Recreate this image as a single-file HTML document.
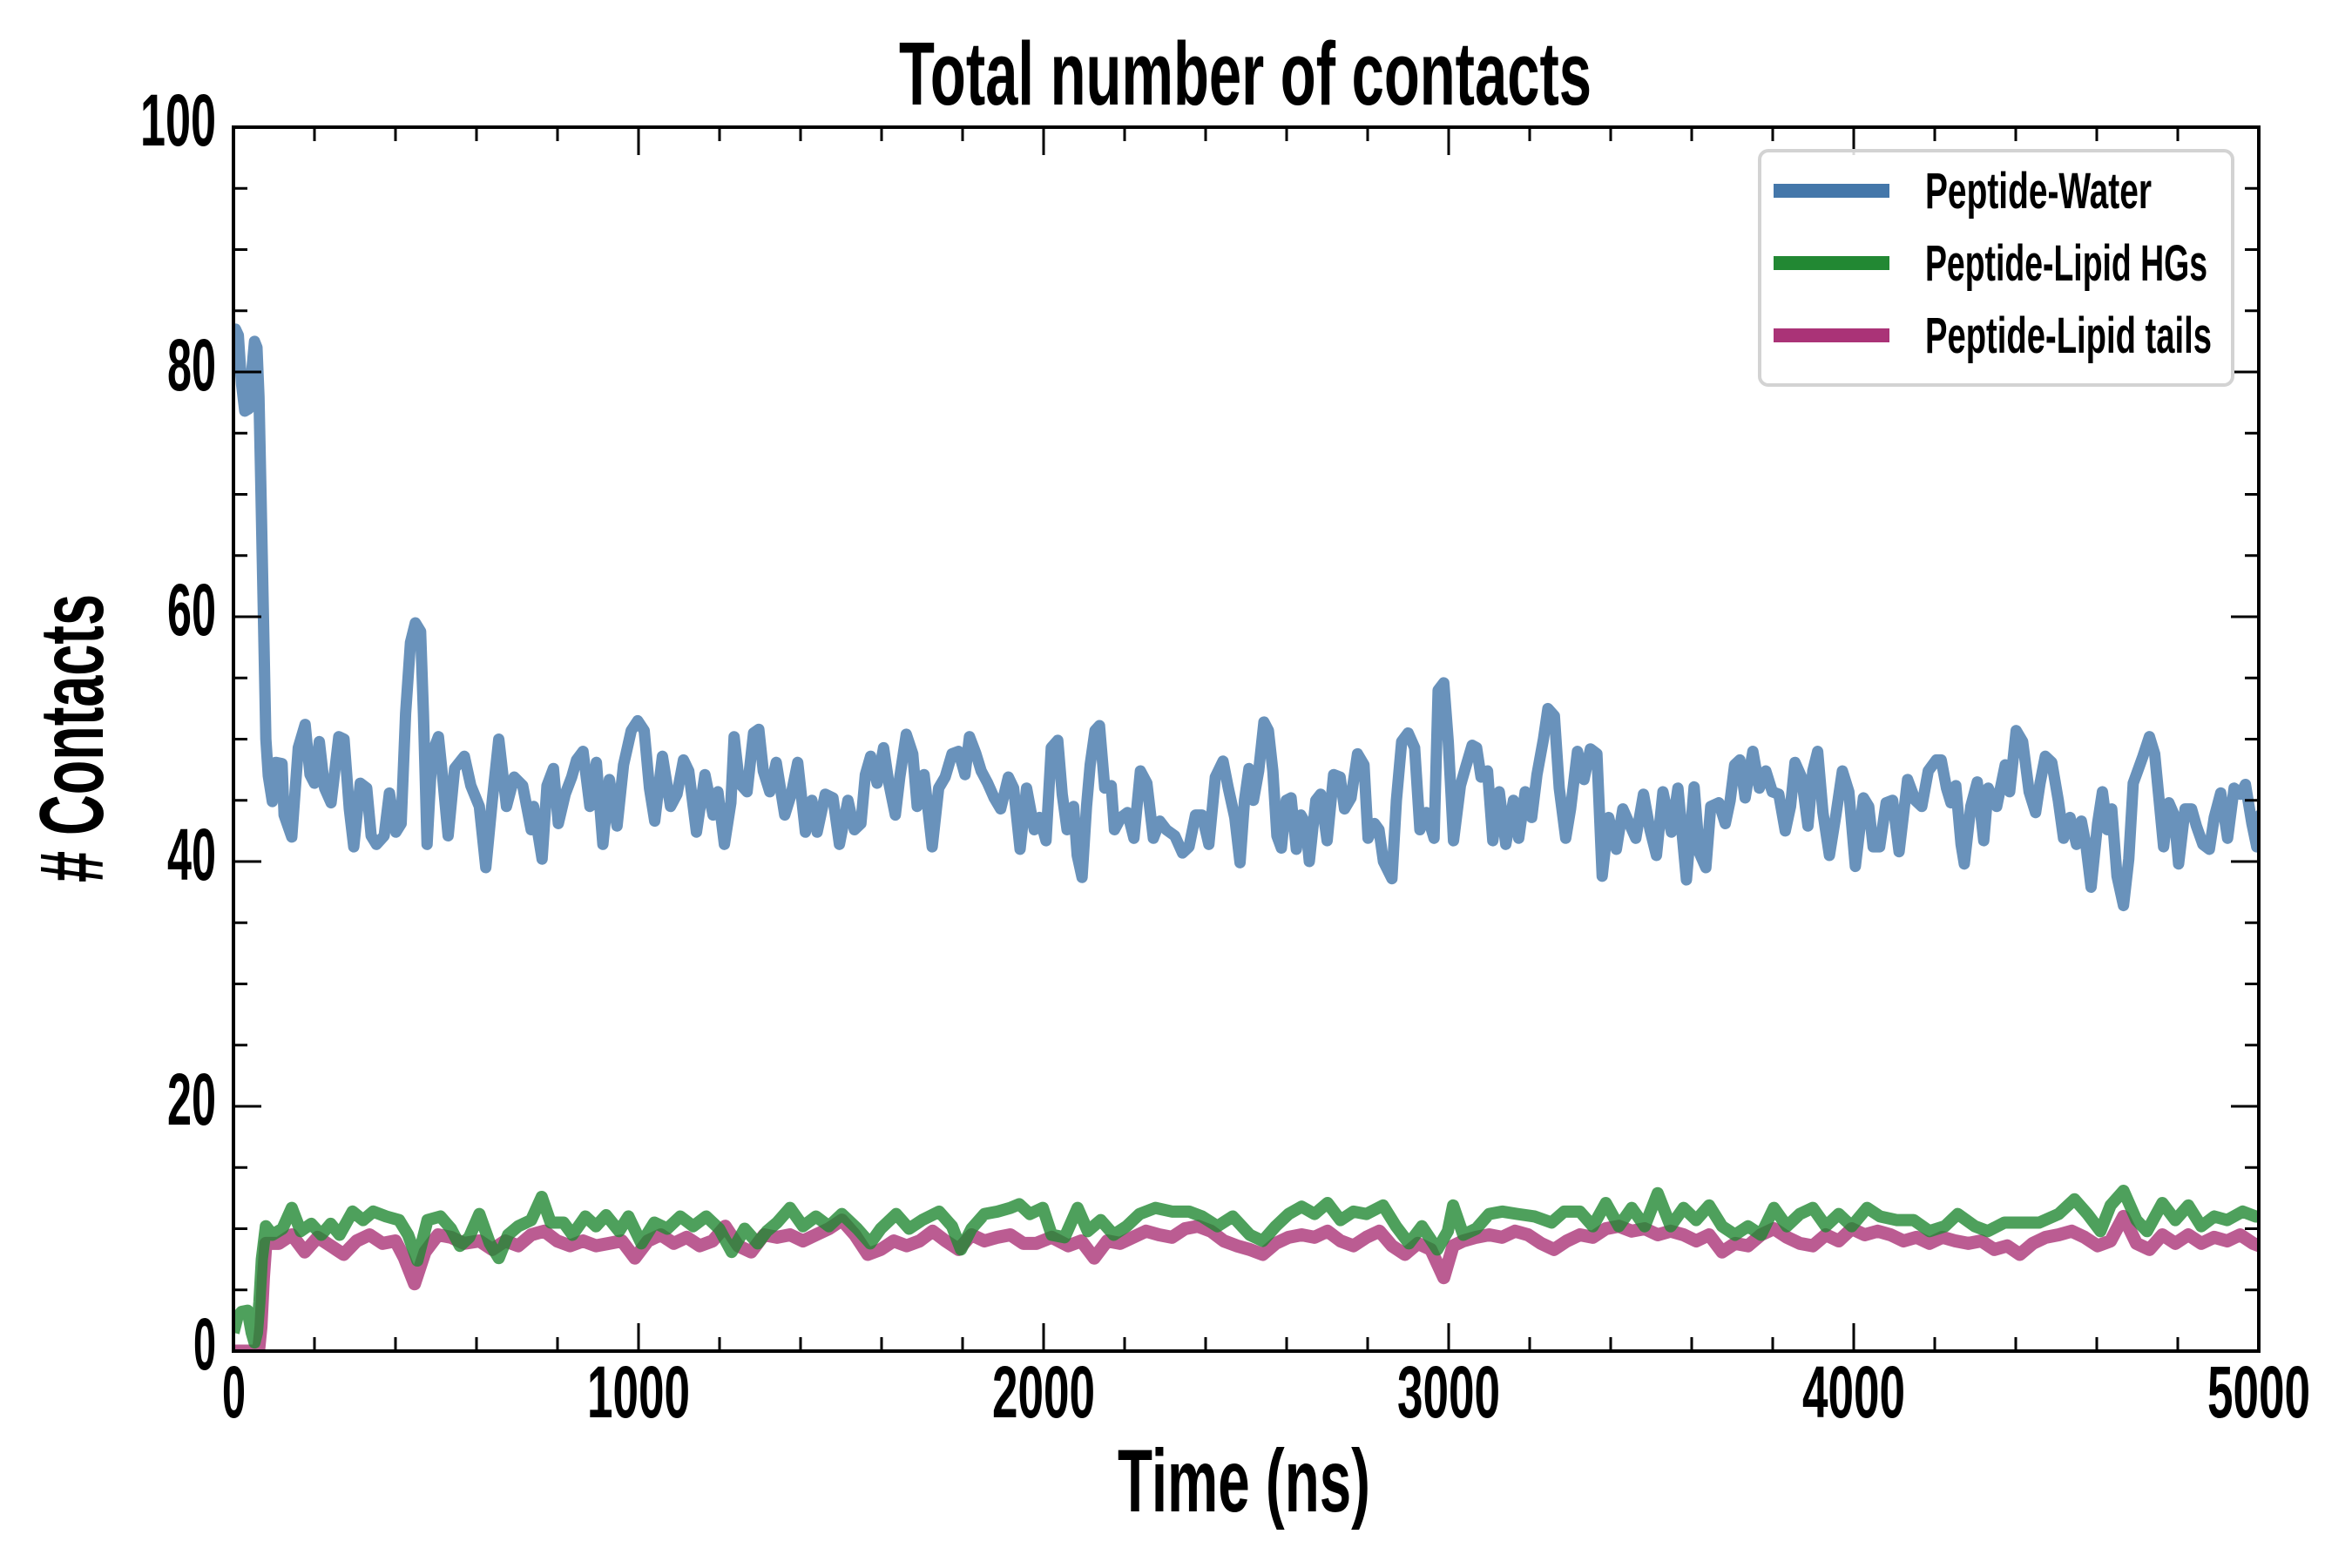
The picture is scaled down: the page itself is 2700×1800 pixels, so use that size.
<!DOCTYPE html>
<html>
<head>
<meta charset="utf-8">
<style>
html,body{margin:0;padding:0;background:#ffffff;}
svg{display:block;}
text{font-family:"Liberation Sans Narrow","Liberation Sans",sans-serif;font-weight:bold;fill:#000;}
</style>
</head>
<body>
<svg width="2700" height="1800" viewBox="0 0 2700 1800" xmlns="http://www.w3.org/2000/svg">
<defs>
<clipPath id="ax"><rect x="268" y="146" width="2325" height="1405"/></clipPath>
</defs>
<rect x="0" y="0" width="2700" height="1800" fill="#ffffff"/>

<g clip-path="url(#ax)">
<g transform="translate(268 1551) scale(0.465 -14.05)" fill="none" stroke-linejoin="round" stroke-linecap="butt">
<polyline vector-effect="non-scaling-stroke" stroke="#4477aa" stroke-opacity="0.8" stroke-width="13" points="0,82 5,83.5 12,83 20,79 28,76.8 38,77 45,80 52,82.5 58,82 63,78 68,70 74,60 80,50 86,47 96,44.9 104,48.1 120,48 125,43.8 144,42 160,49.3 177,51.2 189,47.1 200,46.4 212,49.8 225,46 241,44.8 260,50.2 273,50 286,44.3 297,41.2 313,46.4 329,46 340,42.1 353,41.4 372,42.1 385,45.6 401,42.4 414,43.1 425,52.1 437,57.9 449,59.5 462,58.8 469,52.1 478,41.4 490,48.8 506,50.2 517,46.7 530,42.1 546,47.6 570,48.6 586,46.2 607,44.5 623,39.5 639,45 655,50 674,44.5 693,46.9 714,46.2 735,42.6 741,44.5 762,40.2 774,46.2 790,47.6 802,43.1 819,45.5 835,46.9 847,48.3 863,49 880,44.5 896,48.1 912,41.4 928,46.7 947,42.9 963,47.9 982,50.7 998,51.5 1014,50.7 1027,46 1040,43.3 1059,48.6 1079,44.5 1095,45.5 1111,48.3 1124,47.4 1143,42.4 1164,47.1 1184,43.8 1196,45.7 1212,41.4 1228,44.8 1236,50.2 1249,46.4 1268,45.7 1284,50.5 1297,50.8 1308,47.4 1324,45.7 1340,48.1 1361,43.8 1377,45.5 1393,48.1 1412,42.4 1428,45 1441,42.4 1461,45.5 1480,45.2 1496,41.4 1517,45 1533,42.6 1549,43.1 1560,47.1 1573,48.6 1589,46.4 1605,49.3 1618,46.4 1634,43.8 1645,46.9 1661,50.4 1677,48.8 1688,44.5 1705,47.1 1725,41.2 1741,46 1757,46.9 1774,48.8 1790,49 1806,47.1 1817,50.2 1833,48.8 1846,47.4 1862,46.4 1878,45.2 1894,44.3 1913,46.9 1926,46 1942,41 1958,46 1977,42.6 1990,43.6 2006,41.7 2019,49.3 2035,49.9 2046,45.5 2058,42.6 2074,44.5 2083,40.5 2095,38.7 2106,44.5 2115,47.9 2127,50.7 2138,51.1 2151,46 2167,46.2 2175,42.6 2191,43.6 2207,44 2223,41.9 2239,47.4 2255,46.4 2271,41.9 2287,43.3 2303,42.6 2324,42.1 2343,40.7 2359,41.2 2375,43.8 2391,43.8 2408,41.4 2424,46.9 2443,48.2 2456,46 2472,43.6 2485,39.9 2496,45 2507,47.6 2518,45 2531,47.4 2544,51.4 2555,50.7 2566,47.4 2576,42.1 2587,41.1 2599,45 2611,45.2 2624,41 2635,43.8 2647,43.1 2656,40 2672,45 2684,45.5 2700,41.7 2716,47.1 2732,46.9 2743,44.3 2759,45.2 2775,48.8 2791,47.9 2801,41.9 2817,43.1 2828,42.6 2839,40 2860,38.6 2871,45 2884,49.8 2900,50.5 2916,49.3 2929,42.6 2945,44 2964,41.9 2974,54 2988,54.6 2999,49.8 3012,41.7 3029,46.2 3041,47.6 3058,49.5 3069,49.3 3080,46.9 3096,47.4 3109,41.7 3125,45.7 3141,41.4 3160,45 3173,41.9 3189,45.7 3205,43.6 3218,47.1 3234,50 3245,52.5 3261,51.9 3273,46 3289,41.9 3301,44.3 3318,49 3334,46.7 3350,49.2 3366,48.8 3379,38.8 3395,43.6 3414,41 3430,44.3 3446,43.1 3462,41.9 3481,45.5 3497,42.6 3513,40.5 3529,45.7 3550,42.4 3566,46 3587,38.5 3606,46.1 3619,40.7 3635,39.5 3647,44.5 3667,44.8 3683,43.1 3695,45 3706,47.9 3719,48.3 3732,45.2 3751,49 3767,46 3783,47.4 3799,45.7 3815,45.5 3831,42.5 3844,44.5 3855,48.1 3871,46.9 3887,42.9 3899,47.4 3911,49 3924,44 3940,40.5 3956,43.8 3972,47.4 3988,45.7 4004,39.6 4024,45.2 4037,44.5 4048,41.2 4064,41.2 4080,44.8 4096,45 4112,40.8 4133,46.7 4152,45 4168,44.5 4184,47.4 4204,48.3 4216,48.3 4229,46 4240,44.8 4252,46.2 4265,41.4 4273,39.8 4289,44.5 4305,46.5 4321,41.7 4332,46 4353,44.5 4374,47.9 4385,45.7 4401,50.7 4417,49.8 4433,45.7 4449,44 4460,46.4 4473,48.6 4489,48.1 4505,45 4518,41.9 4534,43.6 4550,41.4 4562,43.3 4573,41.4 4586,37.9 4602,43.1 4614,45.7 4626,42.6 4637,44.3 4650,38.8 4666,36.4 4679,40.2 4690,46.4 4701,47.4 4714,48.6 4730,50.2 4743,48.8 4754,45 4765,41.2 4778,44.8 4791,43.8 4802,39.8 4818,44.3 4834,44.3 4846,42.9 4862,41.4 4878,41 4890,43.6 4906,45.6 4923,41.9 4939,46 4955,45.5 4967,46.3 4983,43.1 4995,41.2 5003,43.8 5010,43"/>
<polyline vector-effect="non-scaling-stroke" stroke="#2a5a8a" stroke-width="2" points="0,80 62,80"/>
<polyline vector-effect="non-scaling-stroke" stroke="#aa3377" stroke-opacity="0.8" stroke-width="15" points="-5,0 30,0 62,0 68,2 74,6 80,8.8 112,8.8 144,9.5 176,8.1 208,9.3 240,8.6 272,7.9 304,9 336,9.5 368,8.8 400,9 422,7.6 447,5.5 473,8.1 505,9.5 537,9.3 569,8.8 607,9 639,8.3 671,9 703,8.6 735,9.5 767,9.8 799,9 831,8.6 863,9 895,8.6 927,8.8 959,9 991,7.6 1023,9 1055,9.5 1087,8.8 1119,9.3 1151,8.6 1183,9 1214,10.2 1246,8.6 1278,8.1 1310,9.5 1342,9.3 1374,9.5 1406,9 1438,9.5 1470,10 1502,10.7 1534,9.5 1566,7.9 1598,8.3 1630,9 1662,8.6 1694,9 1726,9.8 1758,9 1790,8.3 1822,9.5 1854,9 1886,9.3 1918,9.5 1950,8.8 1982,8.8 2020,9.3 2061,8.6 2093,9 2125,7.6 2157,9 2189,8.8 2221,9.3 2253,9.8 2285,9.5 2317,9.3 2349,10 2381,10.2 2413,9.8 2445,9 2477,8.6 2509,8.3 2541,7.9 2573,8.8 2605,9.3 2637,9.5 2669,9.3 2701,9.8 2733,9 2765,8.6 2797,9.3 2829,9.8 2860,8.6 2892,7.9 2924,8.8 2956,8.3 2988,6 3011,8.6 3036,9 3068,9.3 3100,9.5 3132,9.3 3164,9.8 3196,9.5 3228,8.8 3260,8.3 3292,9 3324,9.5 3356,9.3 3388,10 3420,10.2 3452,9.8 3484,10 3516,9.5 3548,9.8 3580,9.5 3611,9 3643,9.5 3675,8.1 3707,8.8 3739,8.6 3771,9.5 3803,10 3835,9.3 3867,8.8 3899,8.6 3931,9.5 3963,9 3995,10 4027,9.5 4059,9.8 4091,9.5 4123,9 4155,9.3 4187,8.8 4219,9.3 4251,9 4283,8.8 4315,9 4347,8.3 4379,8.6 4410,7.9 4442,8.8 4474,9.3 4506,9.5 4538,9.8 4570,9.3 4602,8.6 4634,9 4666,11 4698,8.8 4730,8.3 4762,9.5 4794,8.8 4826,9.5 4858,8.8 4890,9.3 4922,9 4954,9.5 4986,8.8 5010,8.5"/>
<polyline vector-effect="non-scaling-stroke" stroke="#228833" stroke-opacity="0.8" stroke-width="14" points="0,1.5 10,2.8 20,3.2 35,3.3 45,1.5 52,0.7 58,1.5 64,4 70,7.5 80,10.2 96,9.5 121,10 144,11.7 166,9.8 192,10.4 217,9.5 240,10.4 262,9.5 294,11.4 320,10.7 345,11.4 377,11 409,10.7 431,9.5 454,7.4 479,10.7 511,11 537,10 559,8.6 582,9.3 607,11.2 633,8.8 655,7.6 678,9.5 703,10.2 735,10.7 761,12.6 783,10.5 815,10.5 837,9.5 869,11 895,10.2 920,11.1 952,9.8 975,11 1007,8.8 1039,10.5 1071,10 1103,11 1135,10.2 1167,11 1199,10 1230,8.1 1262,10 1294,8.8 1317,9.8 1342,10.5 1374,11.7 1406,10.2 1438,11 1470,10.2 1502,11.2 1540,10 1572,8.8 1598,10 1636,11.2 1668,10 1700,10.7 1742,11.4 1774,10.2 1796,8.3 1822,10 1854,11.2 1886,11.4 1918,11.7 1940,12 1966,11.2 1998,11.7 2020,9.5 2052,9.3 2084,11.7 2109,9.8 2141,10.7 2173,9.5 2205,10.2 2237,11.2 2276,11.7 2317,11.4 2359,11.4 2391,11 2429,10.2 2467,11 2509,9.5 2541,9 2573,10.2 2605,11.2 2637,11.8 2669,11.2 2701,12.1 2733,10.7 2765,11.4 2797,11.2 2838,11.9 2870,10.2 2902,8.8 2934,10.2 2972,8.3 2998,9.8 3011,11.9 3036,9.5 3068,10 3100,11.2 3132,11.4 3170,11.2 3212,11 3254,10.5 3285,11.4 3324,11.4 3356,10.2 3388,12.1 3420,10.2 3452,11.7 3484,10.2 3516,12.9 3548,10.2 3580,11.7 3611,10.7 3643,11.9 3675,10.2 3707,9.5 3739,10.2 3771,9.5 3803,11.7 3835,10.2 3867,11.2 3899,11.7 3931,10.2 3963,11.2 3995,10.2 4033,11.7 4065,11 4107,10.7 4148,10.7 4187,9.8 4225,10.2 4257,11.2 4299,10.2 4331,9.8 4372,10.5 4410,10.5 4458,10.5 4506,11.2 4545,12.4 4577,11.2 4609,9.8 4634,11.9 4666,13.1 4698,10.7 4724,9.8 4762,12.1 4794,10.7 4826,11.9 4858,10.2 4890,11 4922,10.7 4960,11.4 4992,11 5010,11"/>
</g>
</g>

<!-- spines -->
<rect x="268" y="146" width="2325" height="1405" fill="none" stroke="#000" stroke-width="4"/>

<!-- ticks -->
<path fill="none" stroke="#000" stroke-width="3" d="
M268 1551 v-32 M733 1551 v-32 M1198 1551 v-32 M1663 1551 v-32 M2128 1551 v-32 M2593 1551 v-32
M361 1551 v-16 M454 1551 v-16 M547 1551 v-16 M640 1551 v-16
M826 1551 v-16 M919 1551 v-16 M1012 1551 v-16 M1105 1551 v-16
M1291 1551 v-16 M1384 1551 v-16 M1477 1551 v-16 M1570 1551 v-16
M1756 1551 v-16 M1849 1551 v-16 M1942 1551 v-16 M2035 1551 v-16
M2221 1551 v-16 M2314 1551 v-16 M2407 1551 v-16 M2500 1551 v-16
M268 146 v32 M733 146 v32 M1198 146 v32 M1663 146 v32 M2128 146 v32 M2593 146 v32
M361 146 v16 M454 146 v16 M547 146 v16 M640 146 v16
M826 146 v16 M919 146 v16 M1012 146 v16 M1105 146 v16
M1291 146 v16 M1384 146 v16 M1477 146 v16 M1570 146 v16
M1756 146 v16 M1849 146 v16 M1942 146 v16 M2035 146 v16
M2221 146 v16 M2314 146 v16 M2407 146 v16 M2500 146 v16
M268 1551 h32 M268 1270 h32 M268 989 h32 M268 708 h32 M268 427 h32 M268 146 h32
M268 1480.75 h16 M268 1410.5 h16 M268 1340.25 h16
M268 1199.75 h16 M268 1129.5 h16 M268 1059.25 h16
M268 918.75 h16 M268 848.5 h16 M268 778.25 h16
M268 637.75 h16 M268 567.5 h16 M268 497.25 h16
M268 356.75 h16 M268 286.5 h16 M268 216.25 h16
M2593 1551 h-32 M2593 1270 h-32 M2593 989 h-32 M2593 708 h-32 M2593 427 h-32 M2593 146 h-32
M2593 1480.75 h-16 M2593 1410.5 h-16 M2593 1340.25 h-16
M2593 1199.75 h-16 M2593 1129.5 h-16 M2593 1059.25 h-16
M2593 918.75 h-16 M2593 848.5 h-16 M2593 778.25 h-16
M2593 637.75 h-16 M2593 567.5 h-16 M2593 497.25 h-16
M2593 356.75 h-16 M2593 286.5 h-16 M2593 216.25 h-16"/>

<!-- y tick labels -->
<text x="161" y="167" font-size="84" textLength="87" lengthAdjust="spacingAndGlyphs">100</text>
<text x="192" y="448" font-size="84" textLength="56" lengthAdjust="spacingAndGlyphs">80</text>
<text x="192" y="729" font-size="84" textLength="56" lengthAdjust="spacingAndGlyphs">60</text>
<text x="192" y="1010" font-size="84" textLength="56" lengthAdjust="spacingAndGlyphs">40</text>
<text x="192" y="1291" font-size="84" textLength="56" lengthAdjust="spacingAndGlyphs">20</text>
<text x="222" y="1572" font-size="84" textLength="26" lengthAdjust="spacingAndGlyphs">0</text>

<!-- x tick labels -->
<text x="255" y="1627" font-size="84" textLength="27" lengthAdjust="spacingAndGlyphs">0</text>
<text x="674" y="1627" font-size="84" textLength="118" lengthAdjust="spacingAndGlyphs">1000</text>
<text x="1139" y="1627" font-size="84" textLength="118" lengthAdjust="spacingAndGlyphs">2000</text>
<text x="1604" y="1627" font-size="84" textLength="118" lengthAdjust="spacingAndGlyphs">3000</text>
<text x="2069" y="1627" font-size="84" textLength="118" lengthAdjust="spacingAndGlyphs">4000</text>
<text x="2534" y="1627" font-size="84" textLength="118" lengthAdjust="spacingAndGlyphs">5000</text>

<!-- title and axis labels -->
<text x="1032" y="120" font-size="103" textLength="795" lengthAdjust="spacingAndGlyphs">Total number of contacts</text>
<text x="1283" y="1735" font-size="102" textLength="290" lengthAdjust="spacingAndGlyphs">Time (ns)</text>
<text transform="translate(118 1013) rotate(-90)" x="0" y="0" font-size="104" textLength="331" lengthAdjust="spacingAndGlyphs"># Contacts</text>

<!-- legend -->
<rect x="2020" y="173" width="543" height="269" rx="10" ry="10" fill="#ffffff" fill-opacity="0.85" stroke="#d3d3d3" stroke-width="4"/>
<line x1="2036" y1="219" x2="2169" y2="219" stroke="#4477aa" stroke-width="16"/>
<line x1="2036" y1="302" x2="2169" y2="302" stroke="#228833" stroke-width="16"/>
<line x1="2036" y1="385" x2="2169" y2="385" stroke="#aa3377" stroke-width="16"/>
<text x="2210" y="239" font-size="58" textLength="260" lengthAdjust="spacingAndGlyphs">Peptide-Water</text>
<text x="2210" y="322" font-size="58" textLength="324" lengthAdjust="spacingAndGlyphs">Peptide-Lipid HGs</text>
<text x="2210" y="405" font-size="58" textLength="329" lengthAdjust="spacingAndGlyphs">Peptide-Lipid tails</text>
</svg>
</body>
</html>
